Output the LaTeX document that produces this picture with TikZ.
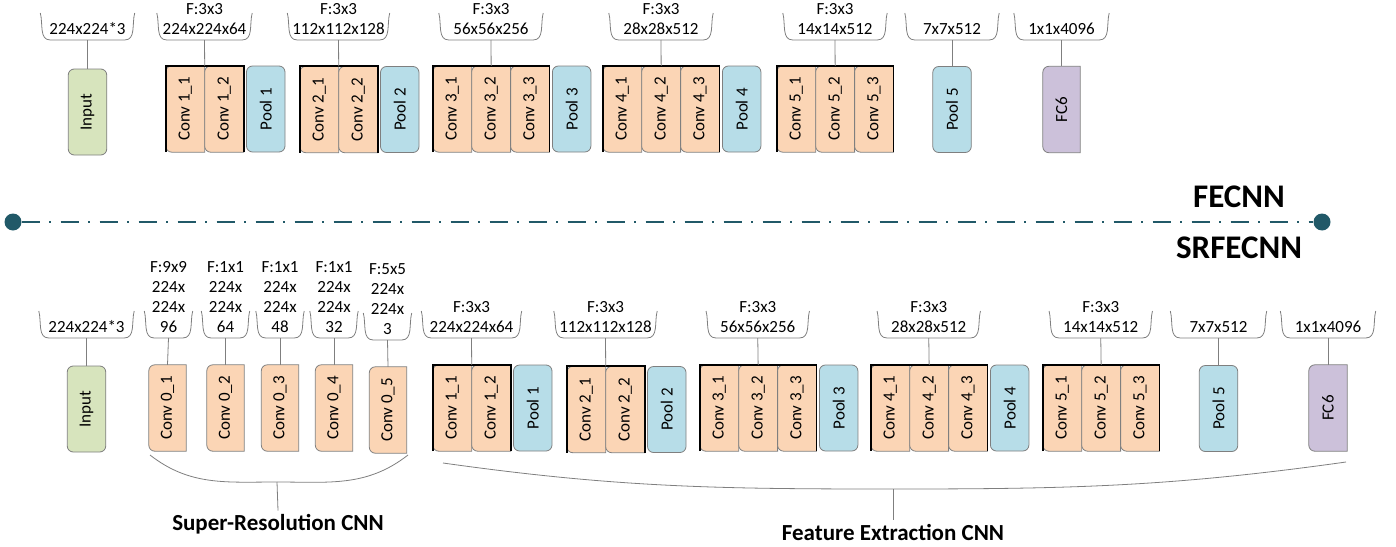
\documentclass[tikz,border=0pt]{standalone}
\usepackage{fontspec}
\setmainfont{Carlito}
\usepackage{graphicx}
\usepackage{tikz}
\usetikzlibrary{positioning}
\definecolor{convpeach}{HTML}{FBD5B5}
\definecolor{poolblue}{HTML}{B7DDE8}
\definecolor{inputgreen}{HTML}{D7E4BD}
\definecolor{fclilac}{HTML}{CCC1DA}
\definecolor{linegray}{HTML}{7F7F7F}
\definecolor{axisteal}{HTML}{215968}

% caja con esquinas redondeadas solo a la izquierda: estilo, nombre, posicion, texto
\newcommand{\halfbox}[4]{%
  \node[boxsize, #3] (#2) {};
  \filldraw[#1] (#2.north) -- (#2.north east) -- (#2.south east) -- (#2.south)
     [rounded corners=6pt] -- (#2.south west) -- (#2.north west) -- cycle;
  \node[txt] at (#2) {\rotatebox{90}{#4}};
}

\begin{document}
\begin{tikzpicture}[x=1pt, y=1pt,
    txt/.style={font=\fontsize{17}{20}\selectfont, inner sep=0pt},
    boxsize/.style={minimum width=38.5pt, minimum height=86pt, inner sep=0pt},
    conv/.style={draw=linegray, fill=convpeach, line width=0.8pt},
    fc/.style={draw=linegray, fill=fclilac, line width=0.8pt},
    pool/.style={boxsize, draw=linegray, fill=poolblue, rounded corners=6pt, line width=0.8pt, txt},
    inbox/.style={pool, fill=inputgreen},
    grpframe/.style={black, line width=1.8pt},
    dimlabel/.style={txt, align=center, inner ysep=5.5pt, minimum width=#1, anchor=south},
    cupline/.style={linegray, line width=0.8pt},
    stemline/.style={linegray, line width=0.8pt},
    bigname/.style={font=\bfseries\fontsize{33}{36}\selectfont},
    partname/.style={font=\bfseries\fontsize{23}{26}\selectfont},
    dot/.style={circle, fill=axisteal, minimum size=17pt, inner sep=0pt},
    axisline/.style={axisteal, line width=2.8pt, dash pattern=on 18pt off 9.5pt on 2pt off 9.5pt}]

    \useasboundingbox (0,0) rectangle (1396,-546);

    % fila superior: FECNN
    \node[inbox, at={(87.5,-112)}] (tin) {\rotatebox{90}{Input}};
    \halfbox{conv}{tc11}{at={(185.25,-109)}}{Conv 1\_1}
    \halfbox{conv}{tc12}{right=0pt of tc11}{Conv 1\_2}
    \node[pool, right=2.5pt of tc12] (tp1) {\rotatebox{90}{Pool 1}};
    \halfbox{conv}{tc21}{at={(319.25,-109.5)}}{Conv 2\_1}
    \halfbox{conv}{tc22}{right=0pt of tc21}{Conv 2\_2}
    \node[pool, right=2.5pt of tc22] (tp2) {\rotatebox{90}{Pool 2}};
    \halfbox{conv}{tc31}{at={(452.25,-109)}}{Conv 3\_1}
    \halfbox{conv}{tc32}{right=0pt of tc31}{Conv 3\_2}
    \halfbox{conv}{tc33}{right=0pt of tc32}{Conv 3\_3}
    \node[pool, right=2.5pt of tc33] (tp3) {\rotatebox{90}{Pool 3}};
    \halfbox{conv}{tc41}{at={(622.25,-109)}}{Conv 4\_1}
    \halfbox{conv}{tc42}{right=0pt of tc41}{Conv 4\_2}
    \halfbox{conv}{tc43}{right=0pt of tc42}{Conv 4\_3}
    \node[pool, right=2.5pt of tc43] (tp4) {\rotatebox{90}{Pool 4}};
    \halfbox{conv}{tc51}{at={(796.25,-109)}}{Conv 5\_1}
    \halfbox{conv}{tc52}{right=0pt of tc51}{Conv 5\_2}
    \halfbox{conv}{tc53}{right=0pt of tc52}{Conv 5\_3}
    \node[pool, at={(952,-109.5)}] (tp5) {\rotatebox{90}{Pool 5}};
    \halfbox{fc}{tfc}{at={(1061.5,-109.5)}, minimum width=37pt}{FC6}

    \draw[grpframe] (tc11.south west) -- (tc11.north west) -- (tc12.north east) -- (tc12.south east);
    \draw[grpframe] (tc21.south west) -- (tc21.north west) -- (tc22.north east) -- (tc22.south east);
    \draw[grpframe] (tc31.south west) -- (tc31.north west) -- (tc33.north east) -- (tc33.south east);
    \draw[grpframe] (tc41.south west) -- (tc41.north west) -- (tc43.north east) -- (tc43.south east);
    \draw[grpframe] (tc51.south west) -- (tc51.north west) -- (tc53.north east) -- (tc53.south east);

    \node[dimlabel=94pt] (dtin) at (87.5,-40) {224x224*3};
    \node[dimlabel=95pt] (dt1) at (204.5,-40) {F:3x3\\224x224x64};
    \node[dimlabel=102pt] (dt2) at (338.5,-40) {F:3x3\\112x112x128};
    \node[dimlabel=104pt] (dt3) at (491,-40) {F:3x3\\56x56x256};
    \node[dimlabel=104pt] (dt4) at (661,-40) {F:3x3\\28x28x512};
    \node[dimlabel=104pt] (dt5) at (835,-40) {F:3x3\\14x14x512};
    \node[dimlabel=94pt] (dt6) at (952,-40) {7x7x512};
    \node[dimlabel=95pt] (dt7) at (1061.5,-40) {1x1x4096};

    \draw[stemline] (dtin.south) -- (tin.north);
    \draw[stemline] (dt1.south) -- (tc11.north east);
    \draw[stemline] (dt2.south) -- (tc21.north east);
    \draw[stemline] (dt3.south) -- (tc32.north);
    \draw[stemline] (dt4.south) -- (tc42.north);
    \draw[stemline] (dt5.south) -- (tc52.north);
    \draw[stemline] (dt6.south) -- (tp5.north);
    \draw[stemline] (dt7.south) -- (tfc.north);

    % separacion
    \node[dot] (axl) at (13,-222) {};
    \node[dot] (axr) at (1322,-222) {};
    \draw[axisline] (axl) -- (axr);
    \node[bigname] (fecnn) at (1239,-197) {FECNN};
    \node[bigname] (srfecnn) at (1239,-248) {SRFECNN};

    % fila inferior: SRFECNN
    \node[inbox, at={(86.5,-409)}] (bin) {\rotatebox{90}{Input}};
    \halfbox{conv}{sc1}{at={(167.5,-408)}, minimum width=37pt}{Conv 0\_1}
    \halfbox{conv}{sc2}{at={(225.5,-408)}, minimum width=37pt}{Conv 0\_2}
    \halfbox{conv}{sc3}{at={(280,-408)}, minimum width=37pt}{Conv 0\_3}
    \halfbox{conv}{sc4}{at={(334,-408)}, minimum width=37pt}{Conv 0\_4}
    \halfbox{conv}{sc5}{at={(388,-410)}, minimum width=37pt}{Conv 0\_5}
    \halfbox{conv}{bc11}{at={(452.25,-408)}}{Conv 1\_1}
    \halfbox{conv}{bc12}{right=0pt of bc11}{Conv 1\_2}
    \node[pool, right=2.5pt of bc12] (bp1) {\rotatebox{90}{Pool 1}};
    \halfbox{conv}{bc21}{at={(586.25,-409.5)}}{Conv 2\_1}
    \halfbox{conv}{bc22}{right=0pt of bc21}{Conv 2\_2}
    \node[pool, right=2.5pt of bc22] (bp2) {\rotatebox{90}{Pool 2}};
    \halfbox{conv}{bc31}{at={(719.25,-408)}}{Conv 3\_1}
    \halfbox{conv}{bc32}{right=0pt of bc31}{Conv 3\_2}
    \halfbox{conv}{bc33}{right=0pt of bc32}{Conv 3\_3}
    \node[pool, right=2.5pt of bc33] (bp3) {\rotatebox{90}{Pool 3}};
    \halfbox{conv}{bc41}{at={(890.25,-408)}}{Conv 4\_1}
    \halfbox{conv}{bc42}{right=0pt of bc41}{Conv 4\_2}
    \halfbox{conv}{bc43}{right=0pt of bc42}{Conv 4\_3}
    \node[pool, right=2.5pt of bc43] (bp4) {\rotatebox{90}{Pool 4}};
    \halfbox{conv}{bc51}{at={(1062.25,-408)}}{Conv 5\_1}
    \halfbox{conv}{bc52}{right=0pt of bc51}{Conv 5\_2}
    \halfbox{conv}{bc53}{right=0pt of bc52}{Conv 5\_3}
    \node[pool, at={(1218.5,-408.5)}] (bp5) {\rotatebox{90}{Pool 5}};
    \halfbox{fc}{bfc}{at={(1328,-408)}, minimum width=38pt}{FC6}

    \draw[grpframe] (bc11.south west) -- (bc11.north west) -- (bc12.north east) -- (bc12.south east);
    \draw[grpframe] (bc21.south west) -- (bc21.north west) -- (bc22.north east) -- (bc22.south east);
    \draw[grpframe] (bc31.south west) -- (bc31.north west) -- (bc33.north east) -- (bc33.south east);
    \draw[grpframe] (bc41.south west) -- (bc41.north west) -- (bc43.north east) -- (bc43.south east);
    \draw[grpframe] (bc51.south west) -- (bc51.north west) -- (bc53.north east) -- (bc53.south east);

    \node[dimlabel=95pt] (dbin) at (86.5,-338) {224x224*3};
    \node[dimlabel=48pt] (ds1) at (168.5,-338) {F:9x9\\224x\\224x\\96};
    \node[dimlabel=48pt] (ds2) at (225.5,-338) {F:1x1\\224x\\224x\\64};
    \node[dimlabel=48pt] (ds3) at (280,-338) {F:1x1\\224x\\224x\\48};
    \node[dimlabel=48pt] (ds4) at (334,-338) {F:1x1\\224x\\224x\\32};
    \node[dimlabel=48pt] (ds5) at (387.5,-340) {F:5x5\\224x\\224x\\3};
    \node[dimlabel=100pt] (db1) at (471.5,-338) {F:3x3\\224x224x64};
    \node[dimlabel=103pt] (db2) at (605.5,-338) {F:3x3\\112x112x128};
    \node[dimlabel=103pt] (db3) at (757.75,-338) {F:3x3\\56x56x256};
    \node[dimlabel=103pt] (db4) at (928.75,-338) {F:3x3\\28x28x512};
    \node[dimlabel=103pt] (db5) at (1100.75,-338) {F:3x3\\14x14x512};
    \node[dimlabel=96pt] (db6) at (1218.5,-338) {7x7x512};
    \node[dimlabel=95pt] (db7) at (1328,-338) {1x1x4096};

    \draw[stemline] (dbin.south) -- (bin.north);
    \draw[stemline] (ds1.south) -- (sc1.north);
    \draw[stemline] (ds2.south) -- (sc2.north);
    \draw[stemline] (ds3.south) -- (sc3.north);
    \draw[stemline] (ds4.south) -- (sc4.north);
    \draw[stemline] (ds5.south) -- (sc5.north);
    \draw[stemline] (db1.south) -- (bc11.north east);
    \draw[stemline] (db2.south) -- (bc21.north east);
    \draw[stemline] (db3.south) -- (bc32.north);
    \draw[stemline] (db4.south) -- (bc42.north);
    \draw[stemline] (db5.south) -- (bc52.north);
    \draw[stemline] (db6.south) -- (bp5.north);
    \draw[stemline] (db7.south) -- (bfc.north);

    % copas de las etiquetas
    \foreach \d in {dtin,dt1,dt2,dt3,dt4,dt5,dt6,dt7,dbin,ds1,ds2,ds3,ds4,ds5,db1,db2,db3,db4,db5,db6,db7}
        \draw[cupline] ([yshift=27pt]\d.south west) to[out=-75,in=180] ([xshift=10pt]\d.south west)
            -- ([xshift=-10pt]\d.south east) to[out=0,in=-105] ([yshift=27pt]\d.south east);

    % llaves inferiores
    \coordinate (srl) at (150,-455);
    \coordinate (srm) at (277,-482);
    \coordinate (srr) at (408,-455);
    \coordinate (fel) at (443,-463);
    \coordinate (fem) at (893,-489);
    \coordinate (fer) at (1346,-462);
    \draw[cupline] (srl) to[out=-38,in=180] (srm) to[out=0,in=-142] (srr);
    \draw[cupline] (fel) to[out=-8,in=180] (fem) to[out=0,in=-172] (fer);
    \node[partname] (srname) at (278,-524) {Super-Resolution CNN};
    \node[partname] (fename) at (893,-532) {Feature Extraction CNN};
    \draw[stemline] (srm) -- (srname.north);
    \draw[stemline] (fem) -- (fename.north);

\end{tikzpicture}
\end{document}
